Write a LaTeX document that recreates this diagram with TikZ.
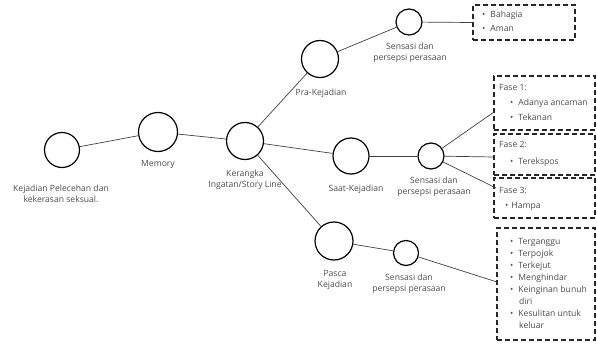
\documentclass[tikz,border=0pt]{standalone}
\usepackage{fontspec}
\setmainfont{Open Sans}
\begin{document}
\begin{tikzpicture}[x=1pt,y=-1pt,
  circ/.style={circle,draw=black,line width=1.2pt,inner sep=0pt,minimum size=#1},
  conn/.style={draw=black!75,line width=0.7pt},
  dbox/.style={draw=black!85,line width=1.1pt,dash pattern=on 5pt off 3pt},
  lbl/.style={font=\fontsize{8.6}{10}\selectfont,text=black!70,align=center,inner sep=0pt},
  itm/.style={font=\fontsize{8.6}{10}\selectfont,text=black!70,anchor=base west,inner sep=0pt}]
\useasboundingbox (0,0) rectangle (597,345);
% circles
\node[circ=35pt] (c1) at (62,150) {};
\node[circ=39pt] (mem) at (158,132) {};
\node[circ=37pt] (ker) at (245,141) {};
\node[circ=37pt] (pra) at (320,59) {};
\node[circ=26pt] (st) at (409,22) {};
\node[circ=36pt] (saat) at (351,156) {};
\node[circ=26pt] (sm) at (431,156) {};
\node[circ=38pt] (pas) at (334,241) {};
\node[circ=25pt] (sb) at (406,253) {};
% boxes
\node[dbox,minimum width=102pt,minimum height=35pt,inner sep=0pt] (tb) at (524,22.5) {};
\node[dbox,minimum width=101pt,minimum height=54pt,inner sep=0pt] (b1) at (544.5,103) {};
\node[dbox,minimum width=101pt,minimum height=41pt,inner sep=0pt] (b2) at (544.5,154.5) {};
\node[dbox,minimum width=101pt,minimum height=40pt,inner sep=0pt] (b3) at (544.5,198) {};
\node[dbox,minimum width=98pt,minimum height=112pt,inner sep=0pt] (b4) at (546,284) {};
\coordinate (e1) at (494,112);
\coordinate (e2) at (494,157);
\coordinate (e3) at (496,188);
\coordinate (e4) at (497,282);
% connectors
\draw[conn] (c1) -- (mem);
\draw[conn] (mem) -- (ker);
\draw[conn] (ker) -- (pra);
\draw[conn] (ker) -- (saat);
\draw[conn] (ker) -- (pas);
\draw[conn] (pra) -- (st);
\draw[conn] (st) -- (tb.west);
\draw[conn] (saat) -- (sm);
\draw[conn] (sm) -- (e1);
\draw[conn] (sm) -- (e2);
\draw[conn] (sm) -- (e3);
\draw[conn] (pas) -- (sb);
\draw[conn] (sb) -- (e4);
% labels
\node[lbl] (l1) at (61,194) {Kejadian Pelecehan dan\\[1pt]kekerasan seksual.};
\node[lbl] (l2) at (158,164) {Memory};
\node[lbl] (l3) at (245,180) {Kerangka\\[1pt]Ingatan/Story Line};
\node[lbl] (l4) at (321,93) {Pra-Kejadian};
\node[lbl] (l5) at (356,189) {Saat-Kejadian};
\node[lbl] (l6) at (335,280) {Pasca\\[1pt]Kejadian};
\node[lbl] (l7) at (410,53) {Sensasi dan\\[1pt]persepsi perasaan};
\node[lbl] (l8) at (434,187) {Sensasi dan\\[1pt]persepsi perasaan};
\node[lbl] (l9) at (409,284) {Sensasi dan\\[1pt]persepsi perasaan};
% box texts
\node[itm] (t1) at (482,18) {•\hspace{5pt}Bahagia};
\node[itm] (t2) at (482,32) {•\hspace{5pt}Aman};
\node[itm] (f1) at (499,90) {Fase 1:};
\node[itm] (f1a) at (510,106) {•\hspace{5pt}Adanya ancaman};
\node[itm] (f1b) at (510,120) {•\hspace{5pt}Tekanan};
\node[itm] (f2) at (499,147) {Fase 2:};
\node[itm] (f2a) at (510,164) {•\hspace{5pt}Terekspos};
\node[itm] (f3) at (499,193) {Fase 3:};
\node[itm] (f3a) at (505,208) {•\hspace{3pt}Hampa};
\node[itm] (p1) at (510,244) {•\hspace{5pt}Terganggu};
\node[itm] (p2) at (510,256) {•\hspace{5pt}Terpojok};
\node[itm] (p3) at (510,268) {•\hspace{5pt}Terkejut};
\node[itm] (p4) at (510,280) {•\hspace{5pt}Menghindar};
\node[itm] (p5) at (510,292) {•\hspace{5pt}Keinginan bunuh};
\node[itm] (p5b) at (519,304) {diri};
\node[itm] (p6) at (510,316) {•\hspace{5pt}Kesulitan untuk};
\node[itm] (p6b) at (519,328) {keluar};
\end{tikzpicture}
\end{document}
